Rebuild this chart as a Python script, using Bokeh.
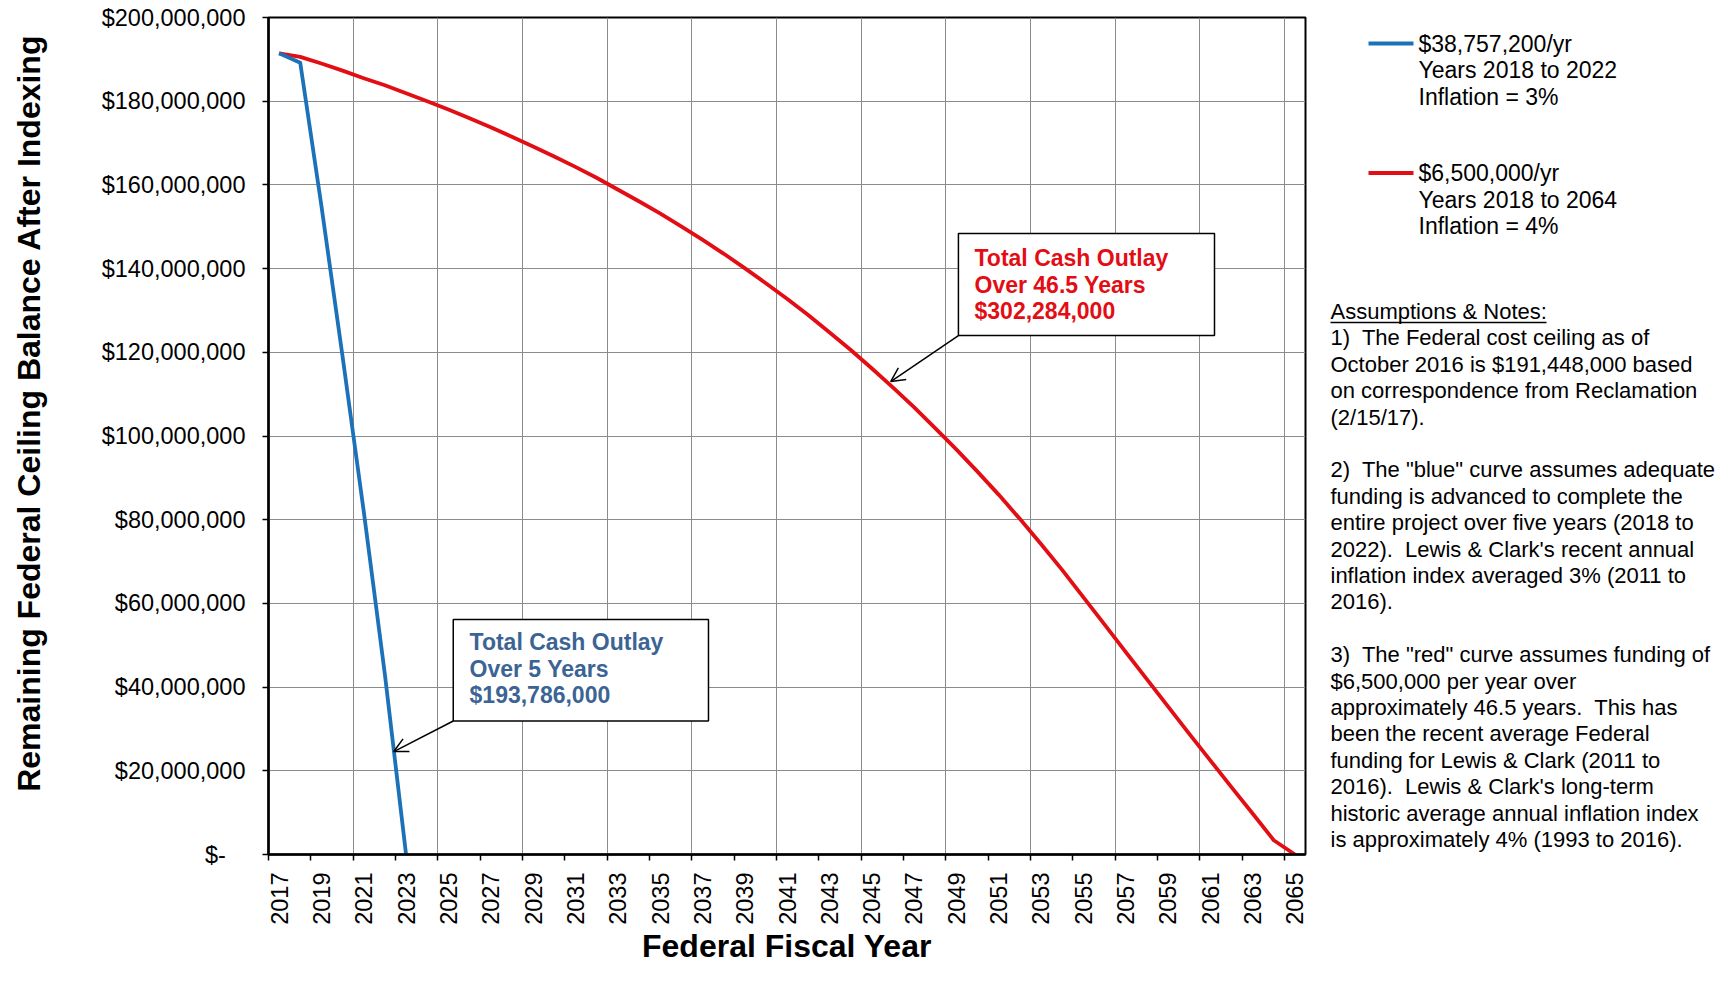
import math
from bokeh.plotting import figure
from bokeh.layouts import row
from bokeh.models import Range1d, FixedTicker, Label, BoxAnnotation, Arrow, OpenHead
from bokeh.core.properties import value
from bokeh.embed import file_html
from bokeh.resources import INLINE

# ---------------- data (values in millions of dollars) ----------------
blue_years = [2017, 2018, 2019, 2020, 2021, 2022, 2023]
blue_balance_m = [191.448, 189.2, 155.0, 119.0, 82.0, 43.0, 0.0]

red_years = list(range(2017, 2066))
red_balance_m = [191.448, 190.6, 189.0, 187.3, 185.5, 183.8, 181.9, 180.0, 178.0, 175.9,
                 173.8, 171.5, 169.2, 166.8, 164.3, 161.7, 158.9, 156.1, 153.2, 150.1,
                 146.9, 143.6, 140.1, 136.5, 132.8, 128.9, 124.8, 120.6, 116.2, 111.6,
                 106.9, 101.9, 96.8, 91.5, 86.0, 80.2, 74.2, 68.0, 61.5, 55.0,
                 48.4, 41.9, 35.4, 28.9, 22.5, 16.1, 9.8, 3.4, 0.0]

x_tick_years = list(range(2017, 2066, 2))
y_ticks_m = list(range(0, 201, 20))
y_tick_labels = ["$-\u00a0\u00a0\u00a0"] + ["${:,}".format(v * 1000000) for v in y_ticks_m[1:]]

y_title = "Remaining Federal Ceiling Balance After Indexing"
x_title = "Federal Fiscal Year"
blue_legend = ["$38,757,200/yr", "Years 2018 to 2022", "Inflation = 3%"]
red_legend = ["$6,500,000/yr", "Years 2018 to 2064", "Inflation = 4%"]
blue_callout = ["Total Cash Outlay", "Over 5 Years", "$193,786,000"]
red_callout = ["Total Cash Outlay", "Over 46.5 Years", "$302,284,000"]
notes = [
    "Assumptions & Notes:",
    "1)\u00a0 The Federal cost ceiling as of",
    "October 2016 is $191,448,000 based",
    "on correspondence from Reclamation",
    "(2/15/17).",
    "",
    "2)\u00a0 The \"blue\" curve assumes adequate",
    "funding is advanced to complete the",
    "entire project over five years (2018 to",
    "2022).\u00a0 Lewis & Clark's recent annual",
    "inflation index averaged 3% (2011 to",
    "2016).",
    "",
    "3)\u00a0 The \"red\" curve assumes funding of",
    "$6,500,000 per year over",
    "approximately 46.5 years.\u00a0 This has",
    "been the recent average Federal",
    "funding for Lewis & Clark (2011 to",
    "2016).\u00a0 Lewis & Clark's long-term",
    "historic average annual inflation index",
    "is approximately 4% (1993 to 2016).",
]

BLUE = "#1c72b8"
RED = "#e30d14"
BLUE_TEXT = "#3b6494"
FONT = "Liberation Sans"
H = 969
FRAME_TOP = 17
FRAME_BOTTOM = 854
LEFT_W = 60
MAIN_W = 1248
RIGHT_W = 1718 - LEFT_W - MAIN_W


def blank_panel(w):
    # side panel whose frame is aligned with the main frame; data y = -pixel row
    f = figure(width=w, height=H, output_backend="svg", toolbar_location=None,
               x_range=Range1d(0, w), y_range=Range1d(-FRAME_BOTTOM, -FRAME_TOP),
               min_border_left=0, min_border_right=0,
               min_border_top=FRAME_TOP, min_border_bottom=H - FRAME_BOTTOM)
    f.axis.visible = False
    f.grid.visible = False
    f.outline_line_color = None
    f.background_fill_color = "white"
    f.border_fill_color = "white"
    return f


# ---------------- left strip: y axis title ----------------
left = blank_panel(LEFT_W)
left.text(x=[28], y=[-412.6], text=[y_title], angle=math.pi / 2, text_font=value(FONT),
          text_font_size="32px", text_font_style="bold", text_align="center",
          text_baseline="alphabetic", text_color="black")

# ---------------- main chart ----------------
p = figure(width=MAIN_W, height=H, output_backend="svg", toolbar_location=None,
           x_range=Range1d(2016.5, 2065.5), y_range=Range1d(0, 200),
           min_border_left=268 - LEFT_W, min_border_right=3,
           min_border_top=FRAME_TOP, min_border_bottom=H - FRAME_BOTTOM)
p.background_fill_color = "white"
p.border_fill_color = "white"
p.outline_line_color = "black"
p.outline_line_width = 2

p.xaxis.ticker = FixedTicker(ticks=x_tick_years, minor_ticks=[y - 0.5 for y in x_tick_years])
p.xaxis.major_label_orientation = math.pi / 2
p.xaxis.major_tick_line_color = None
p.xaxis.major_tick_out = 0
p.xaxis.major_tick_in = 0
p.xaxis.minor_tick_line_color = "black"
p.xaxis.minor_tick_line_width = 1.5
p.xaxis.minor_tick_out = 6
p.xaxis.minor_tick_in = 0
p.xaxis.major_label_standoff = 12
p.xaxis.major_label_text_font = FONT
p.xaxis.major_label_text_font_size = "23.5px"
p.xaxis.major_label_text_color = "black"
p.xaxis.axis_line_width = 2.5
p.xaxis.axis_line_color = "black"
p.xaxis.axis_label = x_title
p.xaxis.axis_label_text_font = FONT
p.xaxis.axis_label_text_font_size = "32px"
p.xaxis.axis_label_text_font_style = "bold"
p.xaxis.axis_label_text_color = "black"
p.xaxis.axis_label_standoff = 0

p.yaxis.ticker = FixedTicker(ticks=y_ticks_m)
p.yaxis.major_label_overrides = {v: s for v, s in zip(y_ticks_m, y_tick_labels)}
p.yaxis.major_tick_line_color = "black"
p.yaxis.major_tick_line_width = 1.5
p.yaxis.major_tick_out = 6
p.yaxis.major_tick_in = 0
p.yaxis.minor_tick_line_color = None
p.yaxis.major_label_standoff = 17
p.yaxis.major_label_text_font = FONT
p.yaxis.major_label_text_font_size = "23.5px"
p.yaxis.major_label_text_color = "black"
p.yaxis.axis_line_width = 2.5
p.yaxis.axis_line_color = "black"

p.xgrid.ticker = FixedTicker(ticks=[2016.5 + 4 * k for k in range(1, 13)])
p.xgrid.grid_line_color = "#8c8c8c"
p.xgrid.grid_line_width = 1
p.ygrid.grid_line_color = "#8c8c8c"
p.ygrid.grid_line_width = 1

p.line(red_years, red_balance_m, line_color=RED, line_width=3.8, line_join="round")
p.line(blue_years, blue_balance_m, line_color=BLUE, line_width=3.8, line_join="round")

# callout boxes
p.add_layout(BoxAnnotation(left=2049.10, right=2061.20, top=148.4, bottom=124.0,
                           fill_color="white", fill_alpha=1, line_color="black",
                           line_alpha=1, line_width=1.5))
for i, t in enumerate(red_callout):
    p.add_layout(Label(x=2049.86, y=142.5 - i * 6.35, text=t, text_font=FONT,
                       text_font_size="23px", text_font_style="bold", text_color=RED,
                       text_baseline="middle"))
p.add_layout(Arrow(end=OpenHead(size=14, line_width=1.5, line_color="black"),
                   x_start=2049.10, y_start=124.0, x_end=2045.9, y_end=113.0,
                   line_color="black", line_width=1.5))

p.add_layout(BoxAnnotation(left=2025.23, right=2037.29, top=56.15, bottom=31.9,
                           fill_color="white", fill_alpha=1, line_color="black",
                           line_alpha=1, line_width=1.5))
for i, t in enumerate(blue_callout):
    p.add_layout(Label(x=2026.0, y=50.75 - i * 6.35, text=t, text_font=FONT,
                       text_font_size="23px", text_font_style="bold", text_color=BLUE_TEXT,
                       text_baseline="middle"))
p.add_layout(Arrow(end=OpenHead(size=14, line_width=1.5, line_color="black"),
                   x_start=2025.23, y_start=31.9, x_end=2022.42, y_end=24.6,
                   line_color="black", line_width=1.5))

# ---------------- right panel: legend and notes ----------------
right = blank_panel(RIGHT_W)
for color, lines, y0 in ((BLUE, blue_legend, 43.0), (RED, red_legend, 172.5)):
    right.segment(x0=[60], y0=[-y0], x1=[105], y1=[-y0], line_color=color, line_width=4)
    right.text(x=[110] * len(lines), y=[-(y0 + i * 26.5) for i in range(len(lines))],
               text=lines, text_font=value(FONT), text_font_size="23px",
               text_color="black", text_baseline="middle")

note_rows = [(i, t) for i, t in enumerate(notes) if t]
right.text(x=[22] * len(note_rows), y=[-(311 + i * 26.4) for i, _ in note_rows],
           text=[t for _, t in note_rows], text_font=value(FONT), text_font_size="22px",
           text_color="black", text_baseline="middle")
right.segment(x0=[22], y0=[-322], x1=[238], y1=[-322], line_color="black", line_width=1.3)

layout = row(left, p, right)
open("out.html", "w").write(file_html(layout, INLINE))
